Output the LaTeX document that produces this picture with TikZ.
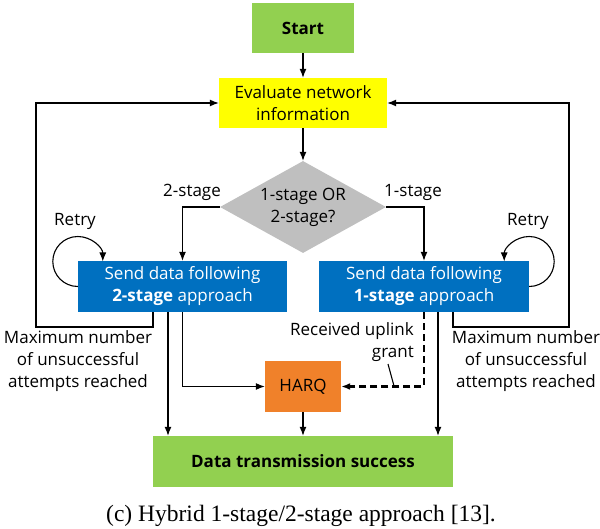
\documentclass[tikz,border=0pt]{standalone}
\usepackage{fontspec}
\setmainfont{Open Sans}
\newfontfamily\capfont{Liberation Serif}
\usetikzlibrary{arrows.meta,shapes.geometric,calc}
\definecolor{boxgreen}{HTML}{92D050}
\definecolor{boxyellow}{HTML}{FFFF00}
\definecolor{boxgray}{HTML}{BFBFBF}
\definecolor{boxblue}{HTML}{0070C0}
\definecolor{boxorange}{HTML}{F0812A}
\begin{document}
\begin{tikzpicture}[x=1pt,y=-1pt,
  font=\fontsize{17}{22}\selectfont,
  box/.style={rectangle,inner sep=0pt,align=center},
  arr/.style={draw,line width=1.1pt,-{Latex[length=9pt,width=7pt]}},
  ln/.style={draw,line width=1.1pt},
  lbl/.style={inner sep=0pt,align=center}]
\useasboundingbox (0,0) rectangle (600,529);

% main boxes
\node[box,fill=boxgreen,minimum width=102pt,minimum height=50pt,font=\fontsize{17}{22}\selectfont\bfseries] (start) at (303,28) {Start};
\node[box,fill=boxyellow,minimum width=168pt,minimum height=50pt] (eval) at (303,103) {Evaluate network\\information};
\node[diamond,fill=boxgray,inner sep=0pt,aspect=1.8,minimum width=166pt,minimum height=92pt,align=center] (dec) at (303,207) {1-stage OR\\2-stage?};
\node[box,fill=boxblue,text=white,minimum width=209pt,minimum height=51pt] (two) at (182.5,286.5) {Send data following\\\textbf{2-stage} approach};
\node[box,fill=boxblue,text=white,minimum width=210pt,minimum height=51pt] (one) at (424,286.5) {Send data following\\\textbf{1-stage} approach};
\node[box,fill=boxorange,minimum width=76pt,minimum height=51pt] (harq) at (303,386.5) {HARQ};
\node[box,fill=boxgreen,minimum width=300pt,minimum height=51pt,font=\fontsize{17}{22}\selectfont\bfseries] (succ) at (303,461.5) {Data transmission success};

% labels
\node[lbl] (l2) at (192,192) {2-stage};
\node[lbl] (l1) at (413,192) {1-stage};
\node[lbl] (rl) at (75,221) {Retry};
\node[lbl] (rr) at (528,221) {Retry};
\node[lbl] (ml) at (78,361) {Maximum number\\of unsuccessful\\attempts reached};
\node[lbl] (mr) at (526,361) {Maximum number\\of unsuccessful\\attempts reached};
\node[lbl,anchor=east,align=right] (grant) at (414,342.5) {Received uplink\\grant};

% flow
\draw[arr] (start) -- (eval);
\draw[arr] (eval) -- (dec);
\draw[arr] (dec.west) -| (two.north);
\draw[arr] (dec.east) -| (one.north);

% retry loops
\draw[arr] (two.west) arc[start angle=-90,delta angle=-270,radius=25pt];
\draw[arr] (one.east) arc[start angle=-90,delta angle=270,radius=25pt];

% give-up loops back to evaluation
\coordinate (lb) at ([xshift=-29.5pt]two.south);
\coordinate (rb) at ([xshift=29pt]one.south);
\draw[arr] (lb) -- (lb |- 0,327) -- (36,327) -- (36,0 |- eval.west) -- (eval.west);
\draw[arr] (rb) -- (rb |- 0,327) -- (569,327) -- (569,0 |- eval.east) -- (eval.east);

% paths to HARQ and success
\coordinate (ls) at ([xshift=-14.5pt]two.south);
\coordinate (rs) at ([xshift=14pt]one.south);
\draw[arr] (ls) -- (ls |- succ.north);
\draw[arr] (rs) -- (rs |- succ.north);
\draw[arr] (two.south) |- (harq.west);
\draw[line width=2.4pt,dash pattern=on 7pt off 4pt,-{Latex[length=9pt,width=7pt]}] (one.south) |- (harq.east);
\draw[ln] (388,364) -- (394,386);
\draw[arr] (harq) -- (succ);

% caption
\node[lbl,font=\capfont\fontsize{23.5}{26}\selectfont] (cap) at (301,516) {(c) Hybrid 1-stage/2-stage approach [13].};
\end{tikzpicture}
\end{document}
